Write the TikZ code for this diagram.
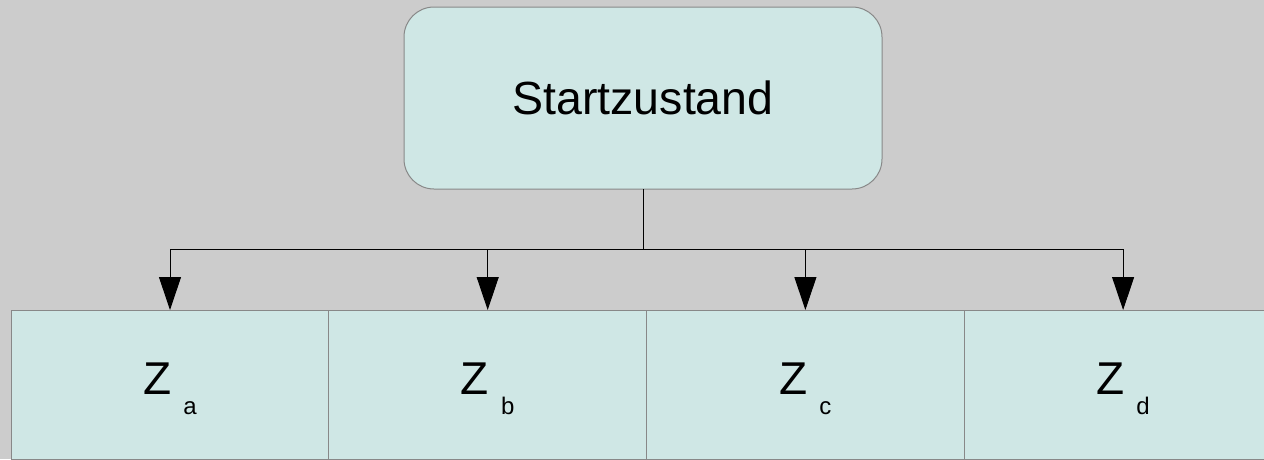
\documentclass[tikz,border=0pt]{standalone}
\usepackage{fontspec}
\setmainfont{Liberation Sans}
\usepackage{xcolor}
\usetikzlibrary{positioning,arrows.meta}

\definecolor{bggray}{HTML}{CCCCCC}
\definecolor{boxfill}{HTML}{CFE7E5}
\definecolor{boxline}{HTML}{888888}

\tikzset{
    state/.style={draw=boxline, fill=boxfill, line width=1pt, inner sep=0pt, outer sep=0pt},
    substate/.style={state, minimum width=317.7pt, minimum height=149pt, anchor=north,
        text height=39pt, text depth=20pt, font=\fontsize{46}{46}\selectfont},
    branch/.style={black, line width=1pt, -{Triangle[length=33pt,width=22pt]}}
}
\newcommand{\zsub}[1]{Z\hspace{12pt}\raisebox{-20pt}{\fontsize{24}{24}\selectfont #1}}

\begin{document}
\begin{tikzpicture}[x=1pt,y=-1pt]
    % Background
    \fill[bggray] (0,0) rectangle (1264,459);
    \useasboundingbox (0,0) rectangle (1264,459);
    % Start state
    \node[state, rounded corners=30pt, minimum width=478pt, minimum height=182pt,
        font=\fontsize{46.5}{46.5}\selectfont] (start) at (643,98) {Startzustand};
    % Sub states
    \node[substate] (za) at (170,310) {\zsub{a}};
    \node[substate, right=0pt of za] (zb) {\zsub{b}};
    \node[substate, right=0pt of zb] (zc) {\zsub{c}};
    \node[substate, right=0pt of zc] (zd) {\zsub{d}};
    % Connectors
    \coordinate (split) at (643,249);
    \draw[line width=1pt] (start.south) -- (split);
    \foreach \z in {za,zb,zc,zd}
        \draw[branch] (split) -| (\z.north);
\end{tikzpicture}
\end{document}
